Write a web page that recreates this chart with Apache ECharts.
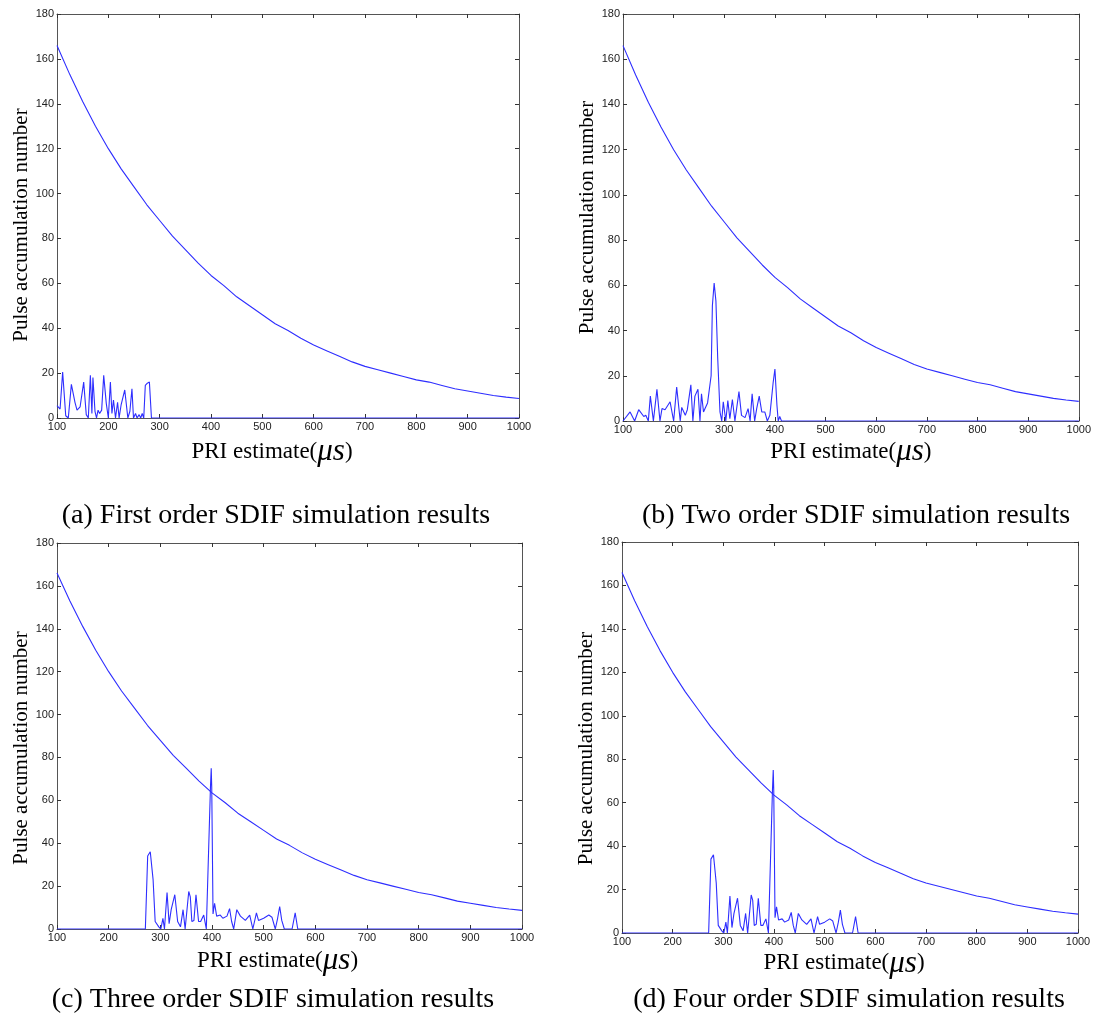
<!DOCTYPE html>
<html>
<head>
<meta charset="utf-8">
<script src="https://cdn.jsdelivr.net/npm/echarts@6/dist/echarts.min.js"></script>
<style>
html,body{margin:0;padding:0;background:#fff;}
#chart{width:1094px;height:1019px;}
</style>
</head>
<body>
<div id="chart"></div>
<script>
// ---------- data ----------
const xTickMin = 100, xTickMax = 1000, xTickStep = 100;
const yTickMin = 0, yTickMax = 180, yTickStep = 20;

// threshold curve (same in all four panels)
const curveX = [100,125,150,175,200,225,250,275,300,325,350,375,400,425,450,475,500,525,550,575,600,625,650,675,700,725,750,775,800,825,850,875,900,925,950,975,1000];
const curveY = [166,153,141,130,120,111,103,95,88,81,75,69,63.5,59,54,50,46,42,39,35.5,32.5,30,27.5,25,23,21.5,20,18.5,17,16,14.5,13,12,11,10,9.3,8.7];

// (a) first order SDIF histogram
const aNoise = [[100,5.5],[106,4],[111,20.5],[117,1],[122,0],[128,15],[135,7],[139,3.5],[145,5],[152,16],[157,1.5],[161,0],[165,19],[168,2],[170,18],[174,3],[177,0],[180,3.5],[183,2],[187,3.5],[191,19],[196,6.5],[200,0],[204,16],[207,2],[210,8],[214,0],[218,7],[221,0],[225,6],[232,12.5],[238,0],[242,3],[246,13],[249,0],[253,2],[256,0],[260,1.5],[263,0],[266,2],[269,0],[272,14.5],[276,15.5],[280,16],[284,0],[1000,0]];

// (b) two order SDIF histogram
const bNoise = [[100,0],[103,0],[114,4],[123,0],[131,5],[141,2],[145,2.5],[150,0],[154,11],[160,0],[167,14],[173,0],[177,5.5],[183,5],[193,8.5],[200,0],[206,15],[213,0],[216,6],[223,2.5],[227,5],[234,16],[238,0],[242,11],[248,14],[252,0],[255,12],[259,4],[262,5.5],[267,8],[270,8.5],[274,20],[276.5,51],[280,61],[283.5,53],[287,28],[291.5,4],[295,0],[298,8.5],[303,0],[307,9],[311,1],[316,9.5],[321,0],[329,13],[334,2.5],[341,1.5],[347,5.5],[351,0],[355,12],[360,0],[364,5.5],[369,11],[374,4],[380,4],[385,0],[390,2.5],[396.5,17],[400,23],[404,7],[406.5,0],[409.5,2],[413,0],[1000,0]];

// (c) three order / (d) four order SDIF histogram
const cNoise = [[100,0],[271,0],[275.5,34],[280.5,36],[286,23],[290,3.5],[297,1],[301,0],[305,5],[308,0],[313,17],[317,2.5],[321,9],[328,16],[333.5,3.5],[339,1],[344,9],[348,0],[355,17.5],[358,15],[361,3.5],[365,4],[369,16],[374,3.5],[378,3.5],[384,6.5],[389,0],[397,66],[398.5,75],[399.5,66],[402,7],[405,12],[409,6],[416,6.5],[421,5],[429,6],[434,9.5],[438,3.5],[442,0],[448,9],[455,6],[464.5,4],[473,6.5],[479,0],[486,7.5],[490,4],[500,5],[510,6.5],[516,5.5],[522.5,0],[527,5],[531,10.5],[535,4],[540,0],[555,0],[561,7.5],[566,0],[1000,0]];
const dNoise = cNoise;

const captions = [
  '(a) First order SDIF simulation results',
  '(b) Two order SDIF simulation results',
  '(c) Three order SDIF simulation results',
  '(d) Four order SDIF simulation results'
];
const xAxisTitle = ['PRI estimate(', 'μs', ')'];
const yAxisTitle = 'Pulse accumulation number';

// ---------- layout ----------
const panels = [
  {grid:{left:57, top:14, width:462, height:404}, noise:aNoise, capX:276, capY:516, xGap:18, yGap:25, xShift:-16, yShift:18},
  {grid:{left:623, top:14, width:457, height:407}, noise:bNoise, capX:856, capY:516, xGap:15, yGap:19, xShift:0, yShift:0},
  {grid:{left:57, top:543, width:465, height:386}, noise:cNoise, capX:273, capY:1000, xGap:16, yGap:25, xShift:-12, yShift:24},
  {grid:{left:622, top:542, width:456, height:391}, noise:dNoise, capX:849, capY:1000, xGap:13, yGap:19, xShift:-6, yShift:22}
];

const lineColor = '#2e2eff';
const axisColor = '#555';
const labelStyle = {color:'#222', fontSize:11, fontFamily:'Liberation Sans'};
const plainNum = v => String(v);

const grids = [], xAxes = [], yAxes = [], series = [], graphics = [];
const curve = curveX.map((x,i)=>[x, curveY[i]]);

panels.forEach((p, i) => {
  grids.push(Object.assign({containLabel:false}, p.grid));
  const pad = p.xShift < 0 ? [0, -2*p.xShift, 0, 0] : [0, 0, 0, 2*p.xShift];
  // bottom x
  xAxes.push({
    gridIndex:i, type:'value', position:'bottom', min:xTickMin, max:xTickMax, interval:xTickStep,
    axisLine:{show:true, onZero:false, lineStyle:{color:axisColor, width:1}},
    axisTick:{show:true, inside:true, length:4, lineStyle:{color:'#333'}},
    axisLabel:Object.assign({margin:3, formatter:plainNum}, labelStyle),
    splitLine:{show:false},
    name: '{n|' + xAxisTitle[0] + '}{u|' + xAxisTitle[1] + '}{n|' + xAxisTitle[2] + '}',
    nameLocation:'middle', nameGap:p.xGap,
    nameTextStyle:{
      padding: pad,
      rich:{
        n:{fontFamily:'Liberation Serif', fontSize:23, color:'#000'},
        u:{fontFamily:'Liberation Serif', fontSize:31, fontStyle:'italic', color:'#000'}
      }
    }
  });
  // top x (box)
  xAxes.push({
    gridIndex:i, type:'value', position:'top', min:xTickMin, max:xTickMax, interval:xTickStep,
    axisLine:{show:true, onZero:false, lineStyle:{color:axisColor, width:1}},
    axisTick:{show:true, inside:true, length:4, lineStyle:{color:'#333'}},
    axisLabel:{show:false}, splitLine:{show:false}
  });
  // left y
  yAxes.push({
    gridIndex:i, type:'value', position:'left', min:yTickMin, max:yTickMax, interval:yTickStep,
    axisLine:{show:true, onZero:false, lineStyle:{color:axisColor, width:1}},
    axisTick:{show:true, inside:true, length:4, lineStyle:{color:'#333'}},
    axisLabel:Object.assign({margin:3, formatter:plainNum}, labelStyle),
    splitLine:{show:false},
    name:yAxisTitle, nameLocation:'middle', nameGap:p.yGap,
    nameTextStyle:{fontFamily:'Liberation Serif', fontSize:21, color:'#000', padding:[0, p.yShift, 0, 0]}
  });
  // right y (box)
  yAxes.push({
    gridIndex:i, type:'value', position:'right', min:yTickMin, max:yTickMax, interval:yTickStep,
    axisLine:{show:true, onZero:false, lineStyle:{color:axisColor, width:1}},
    axisTick:{show:true, inside:true, length:4, lineStyle:{color:'#333'}},
    axisLabel:{show:false}, splitLine:{show:false}
  });
  series.push({
    type:'line', xAxisIndex:2*i, yAxisIndex:2*i, data:curve, showSymbol:false, symbol:'none',
    lineStyle:{color:lineColor, width:1.1}, animation:false, z:3
  });
  series.push({
    type:'line', xAxisIndex:2*i, yAxisIndex:2*i, data:p.noise, showSymbol:false, symbol:'none',
    lineStyle:{color:lineColor, width:1.1}, animation:false, z:4
  });
  graphics.push({
    type:'text', x:p.capX, y:p.capY,
    style:{text:captions[i], font:'28px "Liberation Serif"', fill:'#000', align:'center', verticalAlign:'middle'}
  });
});

const chart = echarts.init(document.getElementById('chart'), null, {renderer:'canvas'});
chart.setOption({
  backgroundColor:'#fff',
  animation:false,
  grid:grids, xAxis:xAxes, yAxis:yAxes, series:series, graphic:graphics
});
</script>
</body>
</html>
